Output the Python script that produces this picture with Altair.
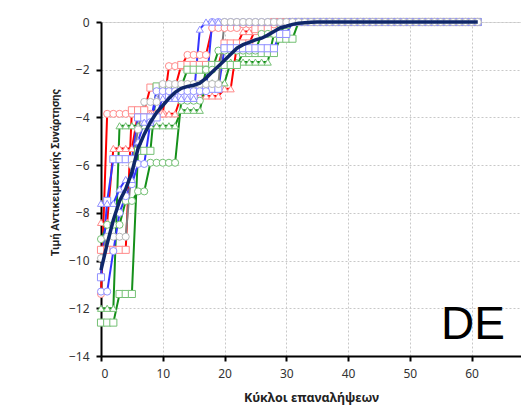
import altair as alt
import pandas as pd

iterations = list(range(62))

r_circ = [-11.4, -3.85, -3.85, -3.85, -3.85, -3.85, -3.85, -3.85, -3.85, -3.85, -3.85,
          -1.85, -1.85, -1.85, -1.38, -1.38, -1.38, -1.38, -0.25, -0.25, -0.25, -0.25, -0.25,
          -0.1, -0.1, -0.1, -0.1, -0.1, -0.1, -0.1,
          0, 0, 0, 0, 0, 0, 0, 0, 0, 0, 0, 0, 0, 0, 0, 0, 0, 0, 0, 0, 0, 0, 0, 0, 0, 0, 0, 0, 0, 0, 0, 0]
r_tri = [-8.4, -8.4, -5.3, -5.3, -5.3, -5.3, -3.85, -3.85, -3.85, -3.85, -3.85, -3.85, -3.85,
         -3.1, -3.1, -3.1, -3.1, -3.1, -3.1, -3.1, -2.8, -2.8, -1.0, -0.4, -0.4, -0.4, -0.4, -0.4,
         0, 0, 0, 0, 0, 0, 0, 0, 0, 0, 0, 0, 0, 0, 0, 0, 0, 0, 0, 0, 0, 0, 0, 0, 0, 0, 0, 0, 0, 0, 0, 0, 0, 0]
r_sq = [-9.55, -9.55, -9.55, -9.55, -9.55, -3.7, -3.7, -3.7, -2.75, -2.75, -2.75, -2.75, -2.75,
        -1.8, -1.8, -1.8, -1.8, -1.8, -1.8, -1.8, -0.9, -0.9, -0.9, -0.9, -0.9, -0.3, -0.3, -0.3,
        0, 0, 0, 0, 0, 0, 0, 0, 0, 0, 0, 0, 0, 0, 0, 0, 0, 0, 0, 0, 0, 0, 0, 0, 0, 0, 0, 0, 0, 0, 0, 0, 0, 0]
g_tri = [-12.0, -12.0, -12.0, -4.35, -4.35, -4.35, -4.35, -4.35, -4.35, -4.35, -4.35, -4.35, -4.35,
         -3.7, -3.7, -3.7, -3.7, -2.55, -2.55, -2.55, -2.55, -1.68, -1.68, -1.68, -1.68, -1.68, -1.68, -1.68,
         -0.5, -0.15, -0.15,
         0, 0, 0, 0, 0, 0, 0, 0, 0, 0, 0, 0, 0, 0, 0, 0, 0, 0, 0, 0, 0, 0, 0, 0, 0, 0, 0, 0, 0, 0, 0]
g_sq = [-12.6, -12.6, -12.6, -11.4, -11.4, -11.4, -5.4, -5.4, -5.4, -2.7, -2.7, -2.7, -2.7, -2.7,
        -2.0, -2.0, -2.0, -2.0, -1.8, -1.8, -1.8, -1.8, -1.8, -1.3, -1.3, -1.3, -1.3, -1.3, -1.3,
        -0.7, -0.7, -0.7,
        0, 0, 0, 0, 0, 0, 0, 0, 0, 0, 0, 0, 0, 0, 0, 0, 0, 0, 0, 0, 0, 0, 0, 0, 0, 0, 0, 0, 0, 0]
g_circ = [-9.1, -8.5, -8.5, -8.5, -7.5, -7.5, -7.1, -7.1, -5.9, -5.9, -5.9, -5.9, -5.9,
          -3.3, -3.3, -3.3, -3.3, -2.0, -2.0, -1.2, -1.2, -1.2, -1.2, -1.2, -1.2, -1.2,
          -0.5, -0.5, -0.5, -0.5,
          0, 0, 0, 0, 0, 0, 0, 0, 0, 0, 0, 0, 0, 0, 0, 0, 0, 0, 0, 0, 0, 0, 0, 0, 0, 0, 0, 0, 0, 0, 0, 0]
b_sq = [-10.7, -7.5, -5.75, -5.75, -5.75, -5.75, -4.0, -4.0, -4.0, -4.0, -3.1, -3.1, -3.1, -3.1, -3.1, -3.1,
        -2.8, -2.8, -2.8, -2.8, -1.1, -1.1, -1.1, -1.1, -1.1, -1.1, -1.1, -1.1, -1.1, -0.5, -0.5,
        0, 0, 0, 0, 0, 0, 0, 0, 0, 0, 0, 0, 0, 0, 0, 0, 0, 0, 0, 0, 0, 0, 0, 0, 0, 0, 0, 0, 0, 0, 0]
b_circ = [-11.3, -11.3, -9.6, -8.0, -7.3, -6.8, -5.95, -5.95, -4.2,
          -2.9, -2.9, -2.9, -2.9, -2.9, -2.9, -2.9, -2.9, -2.9,
          0, 0, 0, 0, 0, 0, 0, 0, 0, 0, 0, 0, 0, 0, 0, 0, 0, 0, 0, 0, 0, 0, 0, 0, 0, 0,
          0, 0, 0, 0, 0, 0, 0, 0, 0, 0, 0, 0, 0, 0, 0, 0, 0, 0]
b_tri = [-7.6, -7.6, -7.6, -7.0, -6.6, -6.6, -5.0, -4.2, -4.2,
         -3.2, -3.2, -3.2, -3.2, -3.2, -3.2, -3.2, -0.3,
         0, 0, 0, 0, 0, 0, 0, 0, 0, 0, 0, 0, 0, 0, 0, 0, 0, 0, 0, 0, 0, 0, 0, 0, 0, 0,
         0, 0, 0, 0, 0, 0, 0, 0, 0, 0, 0, 0, 0, 0, 0, 0, 0, 0, 0]
gray_circ = [-9.9, -9.0, -9.0, -9.0, -9.0, -6.0, -4.5, -3.35, -3.35, -3.35,
             -2.6, -2.6, -2.6, -2.6, -2.6, -2.6, -2.6, -2.6, -2.6, -2.6,
             0, 0, 0, 0, 0, 0, 0, 0, 0, 0, 0, 0, 0, 0, 0, 0, 0, 0, 0, 0, 0,
             0, 0, 0, 0, 0, 0, 0, 0, 0, 0, 0, 0, 0, 0, 0, 0, 0, 0, 0, 0, 0]
average = [-10.4, -9.3, -8.3, -7.5, -7.0, -6.3, -5.3, -4.7, -4.2, -3.8, -3.5, -3.2, -2.95, -2.78,
           -2.7, -2.65, -2.56, -2.35, -2.1, -1.85, -1.6, -1.35, -1.1, -0.95, -0.85, -0.75, -0.68,
           -0.55, -0.4, -0.25, -0.18, -0.1, -0.05, -0.03, -0.01,
           0, 0, 0, 0, 0, 0, 0, 0, 0, 0, 0, 0, 0, 0, 0, 0, 0, 0, 0, 0, 0, 0, 0, 0, 0, 0, 0]

series_names = ["R1", "R2", "R3", "G1", "G2", "G3", "B1", "B2", "B3", "K1"]
series_values = [r_circ, r_tri, r_sq, g_tri, g_sq, g_circ, b_sq, b_circ, b_tri, gray_circ]
line_colors = ["#ff0000", "#ff0000", "#ff0000", "#15901a", "#15901a", "#15901a",
               "#3535ff", "#3535ff", "#3535ff", "#808080"]
marker_colors = ["#ff8a8a", "#ff8a8a", "#ff8a8a", "#74c074", "#74c074", "#74c074",
                 "#9090ff", "#9090ff", "#9090ff", "#b8b8b8"]
marker_shapes = ["circle", "triangle-up", "square", "triangle-up", "square", "circle",
                 "square", "circle", "triangle-up", "circle"]

rows = []
for name, vals in zip(series_names, series_values):
    for it, v in zip(iterations, vals):
        rows.append({"iter": it, "value": v, "series": name})
df = pd.DataFrame(rows)
avg_df = pd.DataFrame({"iter": iterations, "value": average})
label_df = pd.DataFrame({"label": ["DE"]})

FONT = "Noto Sans"

x_enc = alt.X("iter:Q", scale=alt.Scale(domain=[0, 68], nice=False),
              axis=alt.Axis(values=[0, 10, 20, 30, 40, 50, 60], title="Κύκλοι επαναλήψεων",
                            grid=True, gridDash=[2, 2], gridColor="#c8c8c8", gridWidth=1,
                            domainColor="black", domainWidth=2, tickColor="black", tickSize=5,
                            tickWidth=2, labelFontSize=12, labelPadding=7, labelColor="#333333",
                            labelFont=FONT, titleFont=FONT, titleFontSize=12.5, titleFontWeight="bold",
                            titleColor="#222222", titlePadding=12))
y_enc = alt.Y("value:Q", scale=alt.Scale(domain=[-14, 0], nice=False),
              axis=alt.Axis(values=[-14, -12, -10, -8, -6, -4, -2, 0],
                            title="Τιμή Αντικειμενικής Συνάρτησης",
                            grid=True, gridDash=[2, 2], gridColor="#c8c8c8", gridWidth=1,
                            domainColor="black", domainWidth=2, tickColor="black", tickSize=5,
                            tickWidth=2, labelFontSize=12, labelPadding=7, labelColor="#333333",
                            labelFont=FONT, titleFont="Roboto", titleFontSize=11, titleFontWeight="bold",
                            titleColor="#222222", titlePadding=8, titleY=150))

lines = alt.Chart(df).mark_line(strokeWidth=2, clip=False).encode(
    x=x_enc, y=y_enc,
    color=alt.Color("series:N", scale=alt.Scale(domain=series_names, range=line_colors), legend=None),
    detail="series:N",
)
points = alt.Chart(df).mark_point(filled=False, fill="white", fillOpacity=1, size=50,
                                  strokeWidth=1, opacity=1).encode(
    x="iter:Q", y="value:Q",
    stroke=alt.Stroke("series:N", scale=alt.Scale(domain=series_names, range=marker_colors), legend=None),
    shape=alt.Shape("series:N", scale=alt.Scale(domain=series_names, range=marker_shapes), legend=None),
)
avg_line = alt.Chart(avg_df).mark_line(strokeWidth=3.5, color="#0f2769").encode(
    x="iter:Q", y="value:Q")
label = alt.Chart(label_df).mark_text(fontSize=46, font="Liberation Sans", color="black",
                                      align="center", baseline="alphabetic").encode(
    x=alt.value(372), y=alt.value(317), text="label:N")

chart = alt.layer(lines, points, avg_line, label).properties(
    width=420, height=334,
    autosize=alt.AutoSizeParams(type="none"),
    padding={"left": 101, "top": 22, "right": 0, "bottom": 64},
).configure_view(stroke=None).configure(background="white")

chart.save("out.html", embed_options={"renderer": "svg", "actions": False})
